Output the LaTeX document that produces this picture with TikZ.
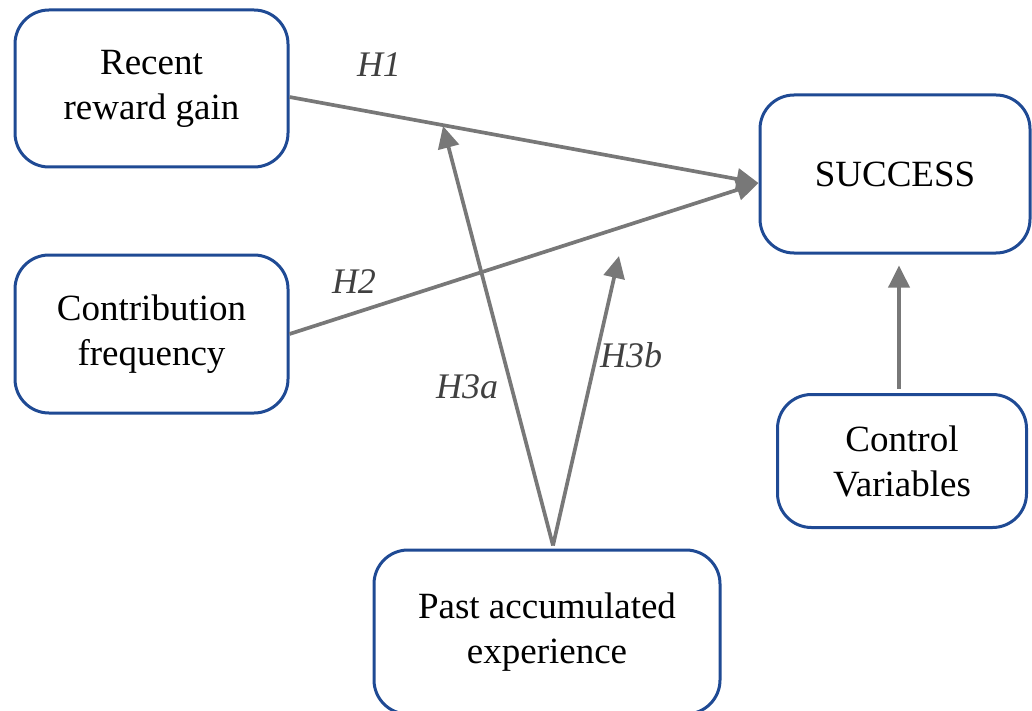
\documentclass[tikz,border=0pt]{standalone}
\usepackage{fontspec}
\setmainfont{Liberation Serif}
\usetikzlibrary{arrows.meta}
\definecolor{boxblue}{HTML}{1F4A94}
\definecolor{arrgray}{HTML}{787878}
\definecolor{labgray}{HTML}{404040}
\begin{document}
\begin{tikzpicture}[x=1pt,y=-1pt,
  var/.style={draw=boxblue,line width=3pt,rounded corners=34pt,align=center,
    inner sep=0pt,font=\fontsize{37}{45}\selectfont},
  link/.style={draw=arrgray,line width=3.7pt,-{Triangle[length=22pt,width=21pt]}},
  hyp/.style={font=\fontsize{36}{40}\selectfont\itshape,text=labgray,inner sep=0pt}]
\useasboundingbox (0,0) rectangle (1032,711);
\begin{scope}
\clip (0,0) rectangle (1032,711);
\node[var,minimum width=273pt,minimum height=157pt] (b1) at (151.5,88.5) {Recent\\reward gain};
\node[var,minimum width=273pt,minimum height=158pt] (b2) at (151.5,334) {Contribution\\frequency};
\node[var,minimum width=270pt,minimum height=158pt] (s) at (895,174) {SUCCESS};
\node[var,minimum width=249pt,minimum height=133pt] (c) at (902,461) {Control\\Variables};
\node[var,minimum width=346pt,minimum height=164pt] (p) at (547,632) {Past accumulated\\experience};
\end{scope}
\coordinate (h3a) at (443,126);
\coordinate (h3b) at (619,256);
\draw[link] ([yshift=-8.5pt]b1.east) -- ([yshift=-9pt]s.west);
\draw[link] (b2.east) -- ([yshift=-9pt]s.west);
\draw[link] ([xshift=6pt,yshift=3pt]p.north) -- (h3a);
\draw[link] ([xshift=6pt,yshift=3pt]p.north) -- (h3b);
\draw[link,shorten >=11pt,shorten <=4pt] ([xshift=-3pt]c.north) -- ([xshift=4pt]s.south);
\node[hyp] (l1) at (379,65) {H1};
\node[hyp] (l2) at (354,282) {H2};
\node[hyp] (l3) at (467,387) {H3a};
\node[hyp] (l4) at (631,355) {H3b};
\end{tikzpicture}
\end{document}
